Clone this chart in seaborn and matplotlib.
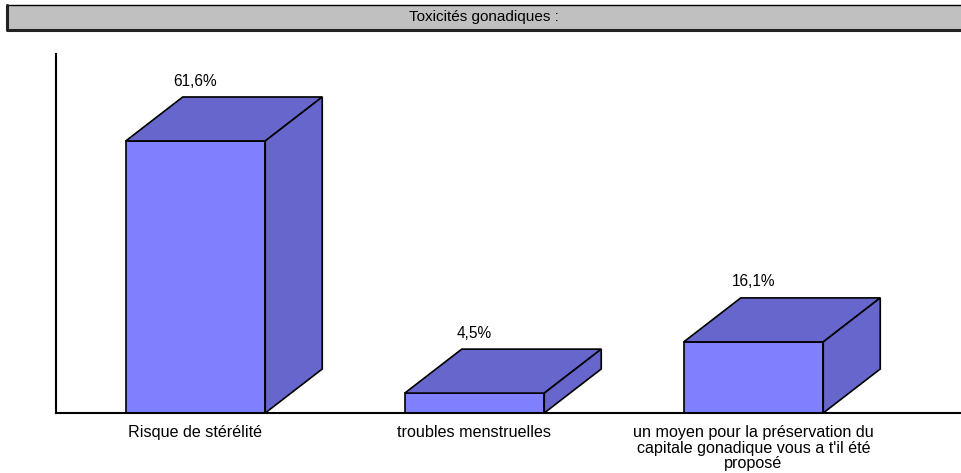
import matplotlib
matplotlib.use('Agg')
import matplotlib.pyplot as plt
import seaborn as sns
from matplotlib.patches import Polygon, Rectangle
from matplotlib.lines import Line2D

# data
categories = ['Risque de stérélité',
              'troubles menstruelles',
              "un moyen pour la préservation du\ncapitale gonadique vous a t'il été\nproposé"]
values = [61.6, 4.5, 16.1]
value_labels = ['61,6%', '4,5%', '16,1%']
title = 'Toxicités gonadiques :'

W, H = 961, 473
sns.set_style('white')
plt.rcParams['font.family'] = ['Liberation Sans', 'DejaVu Sans']
plt.rcParams['text.color'] = 'black'
plt.rcParams['xtick.labelcolor'] = 'black'

fig = plt.figure(figsize=(W / 100, H / 100), dpi=100)

# axes placed in pixels: left spine at x=56, floor at y=413, top at y=54
ax_left, ax_bottom, ax_top = 56, 413, 54
ax = fig.add_axes([ax_left / W, (H - ax_bottom) / H, (W - ax_left) / W, (ax_bottom - ax_top) / H])

front = '#8080FF'
dark = '#6666CC'
sns.barplot(x=categories, y=values, color=front, saturation=1, width=0.5,
            edgecolor='black', linewidth=1.2, ax=ax, zorder=2)

cat_px = 279.0
xlo = -0.5
xhi = xlo + (W - ax_left) / cat_px
ylo, yhi = 0, (ax_bottom - ax_top) / 4.416
ax.set_xlim(xlo, xhi)
ax.set_ylim(ylo, yhi)

# 3d depth, in pixels, turned into data units
dx = 57 * (xhi - xlo) / (W - ax_left)
dy = 44 * (yhi - ylo) / (ax_bottom - ax_top)

for i, p in enumerate(ax.patches):
    x0 = p.get_x()
    x1 = x0 + p.get_width()
    h = p.get_height()
    top = Polygon([(x0, h), (x0 + dx, h + dy), (x1 + dx, h + dy), (x1, h)],
                  closed=True, facecolor=dark, edgecolor='black', linewidth=1.2,
                  clip_on=False, zorder=2)
    side = Polygon([(x1, 0), (x1 + dx, dy), (x1 + dx, h + dy), (x1, h)],
                   closed=True, facecolor=dark, edgecolor='black', linewidth=1.2,
                   clip_on=False, zorder=2)
    ax.add_patch(top)
    ax.add_patch(side)
    ax.annotate(value_labels[i], xy=((x0 + x1) / 2, h + dy), xytext=(0, 11.5),
                textcoords='offset points', ha='center', va='center', fontsize=11.2)

sns.despine(ax=ax, top=True, right=True)
for s in ['left', 'bottom']:
    ax.spines[s].set_linewidth(1.5)
    ax.spines[s].set_color('black')
ax.set_yticks([])
ax.set_xticks(range(len(categories)))
ax.set_xticklabels(categories, fontsize=11.6, linespacing=1.06)
ax.set_xticks([0.5, 1.5, 2.5], minor=True)
ax.tick_params(axis='x', which='major', length=0, pad=8.5)
ax.tick_params(axis='x', which='minor', length=9.5, width=1.5, color='#222222', direction='out')
ax.set_xlabel('')
ax.set_ylabel('')

# title bar at the top
bx0, bx1, by0, by1 = 7, W + 20, 5, 30
fig.patches.append(Rectangle((bx0 / W, 1 - by1 / H), (bx1 - bx0) / W, (by1 - by0) / H,
                             transform=fig.transFigure, facecolor='#C0C0C0',
                             edgecolor='black', linewidth=1, zorder=0))
fig.lines.append(Line2D([bx0 / W, bx0 / W, 1], [1 - by0 / H, 1 - by1 / H, 1 - by1 / H],
                        transform=fig.transFigure, color='#222222', linewidth=2.2))
fig.text((bx0 + W) / 2 / W, 1 - 17.5 / H, title, ha='center', va='center', fontsize=11,
         family=['Liberation Sans Narrow', 'Liberation Sans', 'DejaVu Sans'])

fig.savefig('out.png', dpi=100)
